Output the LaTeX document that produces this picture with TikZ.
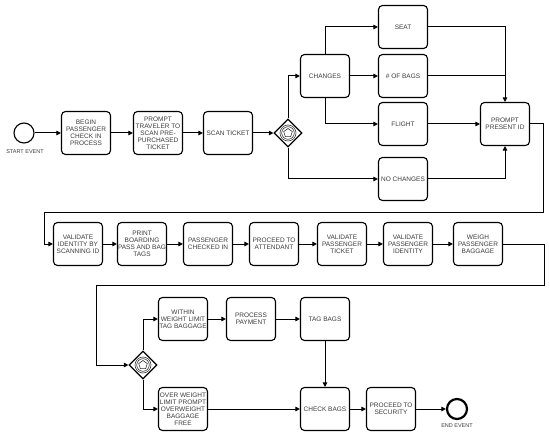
\documentclass[tikz,border=0pt]{standalone}
\usepackage{fontspec}
\setmainfont{Liberation Sans}
\usetikzlibrary{shapes.geometric,arrows.meta}
\definecolor{txt}{HTML}{3A3A3A}
\tikzset{
  task/.style={draw, rectangle, rounded corners=4pt, line width=1.1pt,
    minimum width=49pt, minimum height=43pt, inner sep=0.5pt, align=center,
    text=txt, font=\fontsize{6.5}{6.9}\selectfont},
  gate/.style={draw, diamond, aspect=1, minimum size=28pt, inner sep=0, line width=1.1pt},
  flow/.style={line width=1pt, -{Triangle[length=4.5pt,width=4.5pt]}},
  plain/.style={line width=1pt},
  evlabel/.style={text=txt, font=\fontsize{5.5}{6}\selectfont},
}
\newcommand{\gwicon}[1]{%
  \draw[line width=0.6pt, black!75] (#1) circle (8pt);
  \draw[line width=0.6pt, black!75] (#1) circle (6.3pt);
  \node[draw, regular polygon, regular polygon sides=5, minimum size=9pt, inner sep=0, line width=0.6pt, black!80] at (#1) {};
}
\begin{document}
\begin{tikzpicture}[x=1pt,y=-1pt]
\useasboundingbox (0,0) rectangle (550,436);
% row 1
\node[draw, circle, minimum size=20pt, inner sep=0, line width=1.1pt] (start) at (24,133) {};
\node[evlabel] (startlbl) at (25,152) {START EVENT};
\node[task] (begin) at (86,133) {BEGIN\\PASSENGER\\CHECK IN\\PROCESS};
\node[task] (prompt) at (158,133) {PROMPT\\TRAVELER TO\\SCAN PRE-\\PURCHASED\\TICKET};
\node[task] (scan) at (228,133) {SCAN TICKET};
\node[gate] (gw1) at (288,133) {};
\gwicon{gw1}
\node[task] (changes) at (325,76) {CHANGES};
\node[task] (seat) at (403,27) {SEAT};
\node[task] (bags) at (403,76) {\# OF BAGS};
\node[task] (flight) at (403,124) {FLIGHT};
\node[task] (nochg) at (403,179) {NO CHANGES};
\node[task] (present) at (505,124) {PROMPT\\PRESENT ID};
% row 2
\node[task] (valid) at (78,244) {VALIDATE\\IDENTITY BY\\SCANNING ID};
\node[task] (print) at (142,244) {PRINT\\BOARDING\\PASS AND BAG\\TAGS};
\node[task] (checked) at (208,244) {PASSENGER\\CHECKED IN};
\node[task] (attend) at (274,244) {PROCEED TO\\ATTENDANT};
\node[task] (vticket) at (342,244) {VALIDATE\\PASSENGER\\TICKET};
\node[task] (vident) at (408,244) {VALIDATE\\PASSENGER\\IDENTITY};
\node[task] (weigh) at (478,244) {WEIGH\\PASSENGER\\BAGGAGE};
% row 3
\node[gate] (gw2) at (143,365) {};
\gwicon{gw2}
\node[task] (within) at (183,319) {WITHIN\\WEIGHT LIMIT\\TAG BAGGAGE};
\node[task] (payment) at (251,319) {PROCESS\\PAYMENT};
\node[task] (tag) at (325,319) {TAG BAGS};
\node[task] (over) at (183,409) {OVER WEIGHT\\LIMIT PROMPT\\OVERWEIGHT\\BAGGAGE\\FREE};
\node[task] (check) at (325,409) {CHECK BAGS};
\node[task] (security) at (391,409) {PROCEED TO\\SECURITY};
\node[draw, circle, minimum size=20pt, inner sep=0, line width=2.2pt] (end) at (457,409) {};
\node[evlabel] (endlbl) at (457,426) {END EVENT};
% loop coordinates
\coordinate (l1) at (543,213);
\coordinate (l2) at (44,213);
\coordinate (l3) at (544,285);
\coordinate (l4) at (96,285);
% connectors row 1
\draw[flow] (start) -- (begin);
\draw[flow] (begin) -- (prompt);
\draw[flow] (prompt) -- (scan);
\draw[flow] (scan) -- (gw1);
\draw[flow] (gw1.north) |- (changes.west);
\draw[flow] (changes.north) |- (seat.west);
\draw[flow] (changes) -- (bags);
\draw[flow] (changes.south) |- (flight.west);
\draw[flow] (gw1.south) |- (nochg.west);
\draw[flow] (seat.east) -| (present.north);
\draw[plain] (bags.east) -- (bags.east -| present.north);
\draw[flow] (flight) -- (present);
\draw[flow] (nochg.east) -| (present.south);
\draw[flow] (present.east) -| (l1) -- (l2) |- (valid.west);
% row 2
\draw[flow] (valid) -- (print);
\draw[flow] (print) -- (checked);
\draw[flow] (checked) -- (attend);
\draw[flow] (attend) -- (vticket);
\draw[flow] (vticket) -- (vident);
\draw[flow] (vident) -- (weigh);
\draw[flow] (weigh.east) -| (l3) -- (l4) |- (gw2.west);
% row 3
\draw[flow] (gw2.north) |- (within.west);
\draw[flow] (gw2.south) |- (over.west);
\draw[flow] (within) -- (payment);
\draw[flow] (payment) -- (tag);
\draw[flow] (tag) -- (check);
\draw[flow] (over) -- (check);
\draw[flow] (check) -- (security);
\draw[flow] (security) -- (end);
\end{tikzpicture}
\end{document}
